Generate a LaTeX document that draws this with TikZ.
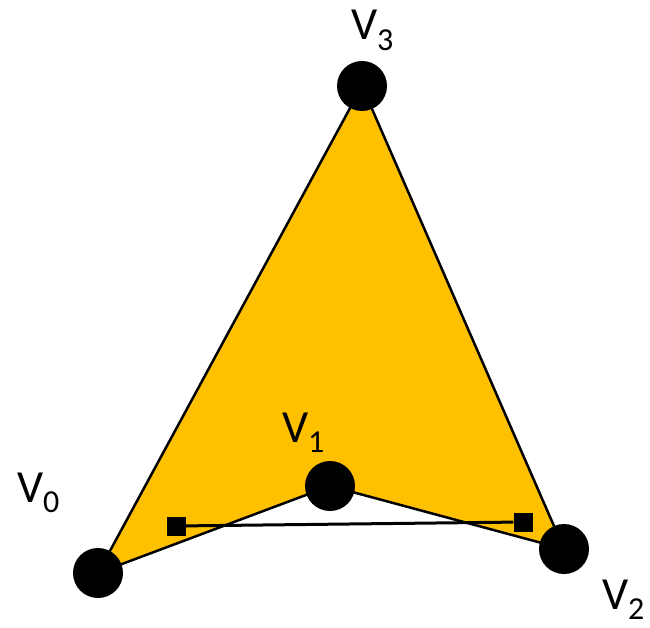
\documentclass[tikz,border=0pt]{standalone}
\usepackage{fontspec}
\setmainfont{Carlito}
\definecolor{fillorange}{HTML}{FFC000}
\newcommand{\vlab}[1]{{\fontsize{46}{46}\selectfont V\raisebox{-10.5pt}[0pt][0pt]{\fontsize{32}{32}\selectfont #1}}}
\begin{document}
\begin{tikzpicture}[x=1pt,y=1pt,
  vdot/.style={circle,fill=black,minimum size=50pt,inner sep=0pt},
  sq/.style={rectangle,fill=black,minimum size=19pt,inner sep=0pt},
  lab/.style={anchor=base west,inner sep=0pt,outer sep=0pt}]
\useasboundingbox (0,0) rectangle (650,627);
\coordinate (p0) at (98,54);
\coordinate (p1) at (330,141);
\coordinate (p2) at (564,78);
\coordinate (p3) at (362,541);
\filldraw[fill=fillorange,draw=black,line width=2.5pt,line join=round]
  (p0) -- (p3) -- (p2) -- (p1) -- cycle;
\node[vdot] (v0) at (p0) {};
\node[vdot] (v1) at (p1) {};
\node[vdot] (v2) at (p2) {};
\node[vdot] (v3) at (p3) {};
\node[sq] (s0) at (176,101) {};
\node[sq] (s1) at (523,105) {};
\draw[line width=3pt] (s0) -- (s1);
\node[lab] (l3) at (351,587) {\vlab{3}};
\node[lab] (l0) at (17,125) {\vlab{0}};
\node[lab] (l1) at (282,185) {\vlab{1}};
\node[lab] (l2) at (602,18) {\vlab{2}};
\end{tikzpicture}
\end{document}
